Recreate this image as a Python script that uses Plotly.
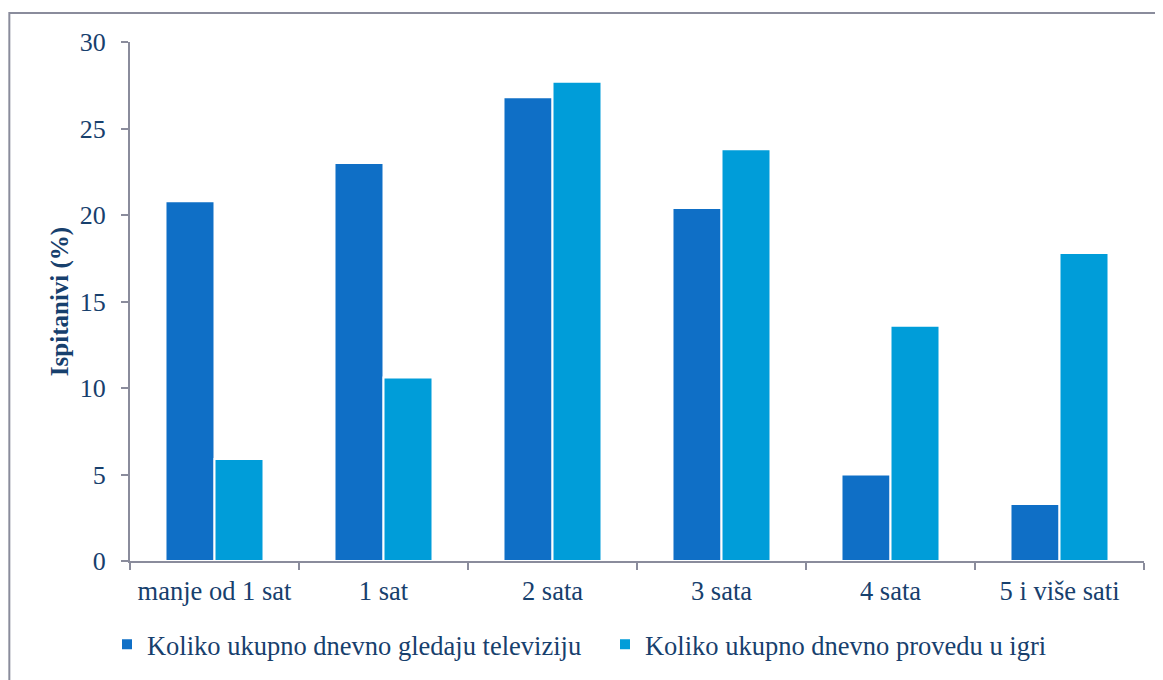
import plotly.graph_objects as go

categories = ["manje od 1 sat", "1 sat", "2 sata", "3 sata", "4 sata", "5 i više sati"]
tv_values = [20.8, 23.0, 26.8, 20.4, 5.0, 3.3]
game_values = [5.9, 10.6, 27.7, 23.8, 13.6, 17.8]
series_names = ["Koliko ukupno dnevno gledaju televiziju", "Koliko ukupno dnevno provedu u igri"]
y_ticks = [0, 5, 10, 15, 20, 25, 30]

text_color = "#17406D"
axis_color = "#8A8C9C"
font_family = "Liberation Serif"

fig = go.Figure()
fig.add_trace(go.Bar(x=categories, y=tv_values, name=series_names[0],
                     marker=dict(color="#0F6FC6", line=dict(color="white", width=2))))
fig.add_trace(go.Bar(x=categories, y=game_values, name=series_names[1],
                     marker=dict(color="#009DD9", line=dict(color="white", width=2))))

fig.update_layout(
    width=1155, height=672,
    margin=dict(l=122, r=19, t=34, b=117),
    paper_bgcolor="white", plot_bgcolor="white",
    barmode="group", bargap=0.42, bargroupgap=0.0,
    font=dict(family=font_family, size=26, color=text_color),
    showlegend=True,
    legend=dict(orientation="h", x=-0.0227, xanchor="left", y=-0.161, yanchor="middle",
                entrywidth=453,
                font=dict(family=font_family, size=26.5, color=text_color),
                itemsizing="constant"),
    shapes=[dict(type="rect", xref="paper", yref="paper",
                 x0=-0.119, x1=1.2, y0=-0.5, y1=1.056,
                 line=dict(color=axis_color, width=2), fillcolor="rgba(0,0,0,0)", layer="below")],
)

fig.update_xaxes(
    showline=True, linecolor=axis_color, linewidth=2,
    ticks="outside", ticklen=7, tickcolor=axis_color, tickwidth=2,
    tickson="boundaries", showgrid=False, zeroline=False,
    tickfont=dict(family=font_family, size=26.5, color=text_color),
    ticklabelstandoff=5,
)
fig.update_yaxes(
    range=[0, 30], tickvals=y_ticks,
    showline=True, linecolor=axis_color, linewidth=2,
    ticks="outside", ticklen=7, tickcolor=axis_color, tickwidth=2,
    showgrid=False, zeroline=False,
    tickfont=dict(family=font_family, size=26, color=text_color),
    ticklabelstandoff=10,
    title=dict(text="<b>Ispitanivi (%)</b>", standoff=4,
               font=dict(family=font_family, size=25, color=text_color)),
)

fig.write_html("out.html")
